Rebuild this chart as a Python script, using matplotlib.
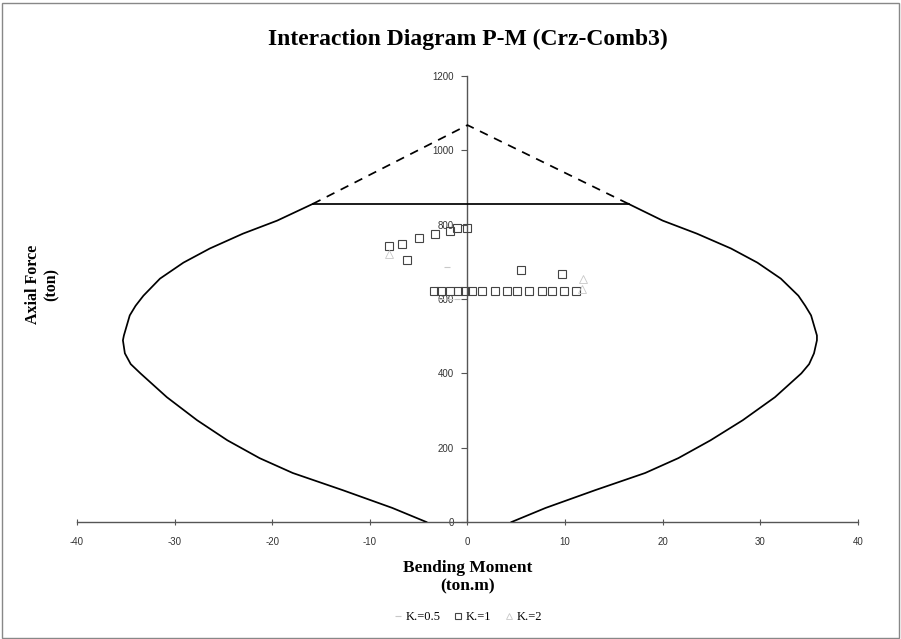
import matplotlib
matplotlib.use("Agg")
import matplotlib.pyplot as plt
from matplotlib.patches import Rectangle

plt.rcParams["axes.unicode_minus"] = False

# Interaction envelope (M in ton.m, P in ton)
left_m = [-15.85, -19.5, -23.0, -26.4, -29.1, -31.5, -33.2, -34.0, -34.6, -35.2, -35.3,
          -35.1, -34.5, -33.5, -30.8, -27.7, -24.6, -21.3, -17.9, -12.8, -7.7, -4.2]
left_p = [856, 811, 776, 736, 698, 655, 609, 582, 556, 502, 489,
          454, 425, 400, 336, 274, 220, 172, 132, 86, 38, 0]
right_m = [16.5, 20.0, 23.5, 27.0, 29.7, 32.1, 33.9, 34.6, 35.2, 35.8, 35.8,
           35.5, 35.0, 34.2, 31.5, 28.2, 24.9, 21.6, 18.2, 13.1, 8.0, 4.5]
right_p = [856, 811, 776, 736, 698, 655, 609, 582, 556, 502, 489,
           454, 425, 400, 336, 274, 220, 172, 132, 86, 38, 0]

# Cap (Pmax) and theoretical apex
cap_m = [-15.85, 16.5]
cap_p = [856, 856]
apex_m = [-15.85, 0.0, 16.5]
apex_p = [856, 1068, 856]

# Demand points per effective length factor
k05_m = [-2.1, -2.7, -1.8, -1.1]
k05_p = [685, 601, 601, 601]
k1_m = [-8.0, -6.7, -6.2, -5.0, -3.3, -1.8, -1.1, -0.1,
        -3.4, -2.7, -1.8, -1.0, -0.3, 0.5, 1.5, 2.8, 4.0, 5.1, 6.3, 7.6, 8.7, 9.9, 11.1,
        5.5, 9.7]
k1_p = [744, 749, 706, 765, 776, 784, 792, 792,
        623, 623, 623, 623, 623, 623, 623, 623, 623, 623, 623, 623, 623, 623, 623,
        677, 668]
k2_m = [-8.0, 11.8, 11.7]
k2_p = [722, 655, 628]

x_ticks = [-40, -30, -20, -10, 0, 10, 20, 30, 40]
y_ticks = [0, 200, 400, 600, 800, 1000, 1200]

serif = ["Liberation Serif", "DejaVu Serif"]
sans = ["Liberation Sans", "DejaVu Sans"]

fig = plt.figure(figsize=(9.01, 6.39), dpi=100)
fig.patches.append(Rectangle((0.002, 0.002), 0.996, 0.994, transform=fig.transFigure,
                             fill=False, edgecolor="#888888", linewidth=1.0))

ax = fig.add_axes([0.0855, 0.183, 0.8667, 0.698])
ax.set_xlim(-40, 40)
ax.set_ylim(0, 1200)

line_kw = dict(color="black", lw=1.25, zorder=3, solid_joinstyle="round")
ax.plot(left_m, left_p, **line_kw)
ax.plot(right_m, right_p, **line_kw)
ax.plot(cap_m, cap_p, **line_kw)
ax.plot(apex_m, apex_p, color="black", lw=1.25, ls=(0, (5, 4)), zorder=3)

h05, = ax.plot(k05_m, k05_p, ls="none", marker="_", ms=5, mec="#c8c8c8", mew=0.8, zorder=4)
h1, = ax.plot(k1_m, k1_p, ls="none", marker="s", ms=6, mfc="none", mec="#444444", mew=0.8, zorder=4)
h2, = ax.plot(k2_m, k2_p, ls="none", marker="^", ms=5.5, mfc="none", mec="#c8c8c8", mew=0.6, zorder=4)

for side in ("top", "right"):
    ax.spines[side].set_visible(False)
ax.spines["left"].set_position(("data", 0))
ax.spines["bottom"].set_position(("data", 0))
for side in ("left", "bottom"):
    ax.spines[side].set_color("#555555")
    ax.spines[side].set_linewidth(1.0)

ax.set_xticks(x_ticks)
ax.set_yticks(y_ticks)
ax.tick_params(axis="y", direction="out", length=4, color="#555555", labelsize=7,
               labelcolor="#333333", pad=6)
ax.tick_params(axis="x", direction="inout", length=5, color="#555555", labelsize=7,
               labelcolor="#333333", pad=8)
for lab in ax.get_xticklabels() + ax.get_yticklabels():
    lab.set_family(sans)

fig.text(0.519, 0.938, "Interaction Diagram P-M (Crz-Comb3)", ha="center", va="center",
         fontsize=17, fontweight="bold", family=serif)
fig.text(0.519, 0.097, "Bending Moment\n(ton.m)", ha="center", va="center",
         fontsize=12.5, fontweight="bold", family=serif, linespacing=1.15)
fig.text(0.047, 0.555, "Axial Force\n(ton)", ha="center", va="center", rotation=90,
         fontsize=11.5, fontweight="bold", family=serif, linespacing=1.2)

fig.legend([h05, h1, h2], ["K.=0.5", "K.=1", "K.=2"], loc="center",
           bbox_to_anchor=(0.519, 0.034), ncol=3, frameon=False,
           prop={"family": serif, "size": 9}, handlelength=0.8, handletextpad=0.2,
           columnspacing=1.0, markerscale=0.8)

fig.savefig("out.png", dpi=100)
